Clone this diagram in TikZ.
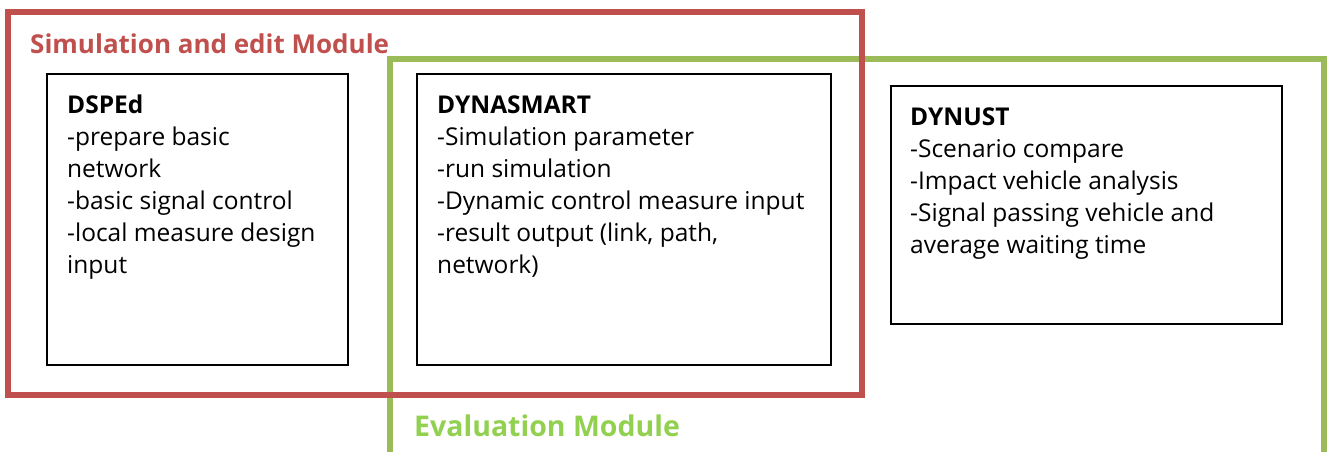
\documentclass[tikz,border=0pt]{standalone}
\usepackage{fontspec}
\setmainfont{Open Sans}
\definecolor{modred}{HTML}{C0504D}
\definecolor{modgreen}{HTML}{9BBB59}
\definecolor{evalgreen}{HTML}{92D050}
\begin{document}
\begin{tikzpicture}[x=1pt,y=-1pt,
  toolbox/.style={draw=black,line width=1.6pt,inner sep=0pt,anchor=north west},
  boxtext/.style={anchor=base west,inner sep=0pt,align=left,font=\fontsize{24.5}{32}\selectfont},
  modtitle/.style={anchor=base west,inner sep=0pt,font=\fontsize{26}{30}\selectfont\bfseries},
  frame/.style={line width=6pt}]
\useasboundingbox (0,0) rectangle (1329,451);
% green evaluation frame (open at the bottom)
\coordinate (gbl) at (390,460);
\coordinate (gbr) at (1324,460);
\draw[frame,modgreen] (gbl) -- (390,58.5) -- (1324,58.5) -- (gbr);
% red simulation frame
\draw[frame,modred] (8,12) rectangle (862,395);
% boxes
\node[toolbox,minimum width=301pt,minimum height=291pt] (dsped) at (46,73) {};
\node[toolbox,minimum width=414pt,minimum height=291pt] (dyna) at (416,73) {};
\node[toolbox,minimum width=391pt,minimum height=238pt] (dynust) at (890,85) {};
% texts (anchored at the baseline of the last line)
\node[boxtext] (t1) at (67,273) {\textbf{DSPEd}\\-prepare basic\\network\\-basic signal control\\-local measure design\\input};
\node[boxtext] (t2) at (437,273) {\textbf{DYNASMART}\\-Simulation parameter\\-run simulation\\-Dynamic control measure input\\-result output (link, path,\\network)};
\node[boxtext] (t3) at (910,253) {\textbf{DYNUST}\\-Scenario compare\\-Impact vehicle analysis\\-Signal passing vehicle and\\average waiting time};
% titles
\node[modtitle,text=modred] (simtitle) at (30,53) {Simulation and edit Module};
\node[modtitle,text=evalgreen,font=\fontsize{28.5}{32}\selectfont\bfseries] (evaltitle) at (414,436) {Evaluation Module};
\end{tikzpicture}
\end{document}
